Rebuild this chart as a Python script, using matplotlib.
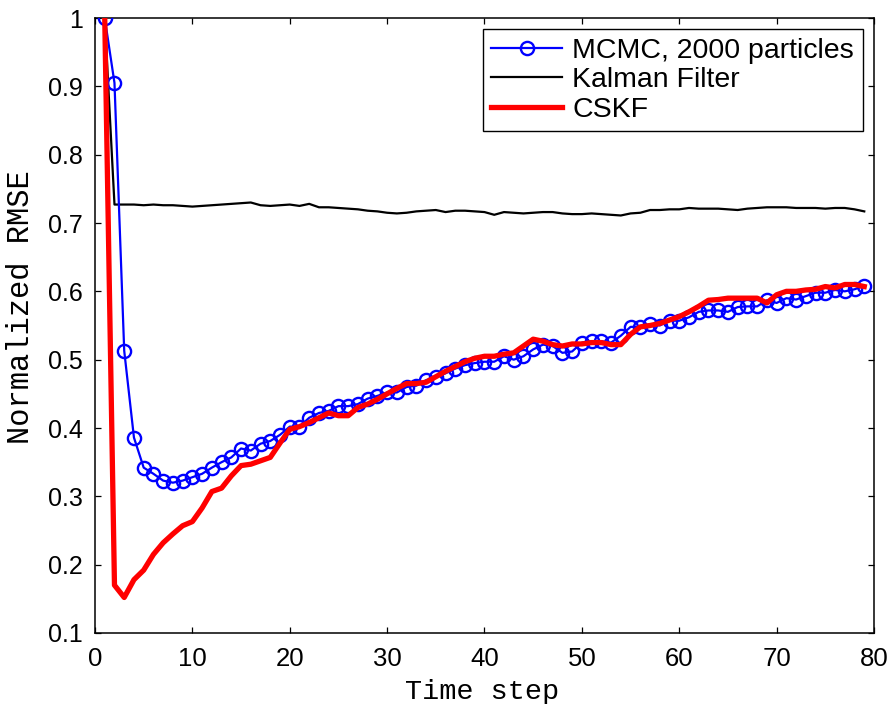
import matplotlib
matplotlib.use("Agg")
import matplotlib.pyplot as plt
import numpy as np

time_steps = list(range(1, 80))

mcmc = [1.0, 0.905, 0.513, 0.386, 0.342, 0.333, 0.323, 0.320, 0.323, 0.328,
        0.333, 0.342, 0.350, 0.357, 0.370, 0.367, 0.377, 0.381, 0.390, 0.402,
        0.402, 0.415, 0.422, 0.425, 0.432, 0.432, 0.435, 0.443, 0.447, 0.452,
        0.452, 0.460, 0.462, 0.470, 0.475, 0.480, 0.487, 0.492, 0.495, 0.497,
        0.497, 0.505, 0.500, 0.505, 0.515, 0.522, 0.520, 0.510, 0.512, 0.525,
        0.527, 0.527, 0.525, 0.535, 0.548, 0.548, 0.552, 0.550, 0.557, 0.557,
        0.562, 0.570, 0.572, 0.572, 0.570, 0.577, 0.578, 0.578, 0.587, 0.583,
        0.590, 0.588, 0.593, 0.598, 0.598, 0.602, 0.600, 0.603, 0.608]

kalman = [1.0, 0.727, 0.727, 0.727, 0.726, 0.727, 0.726, 0.726, 0.725, 0.724,
          0.725, 0.726, 0.727, 0.728, 0.729, 0.730, 0.726, 0.725, 0.726, 0.727,
          0.725, 0.728, 0.723, 0.723, 0.722, 0.721, 0.720, 0.718, 0.717, 0.715,
          0.714, 0.715, 0.717, 0.718, 0.719, 0.716, 0.718, 0.718, 0.717, 0.716,
          0.712, 0.716, 0.715, 0.714, 0.715, 0.716, 0.716, 0.714, 0.713, 0.713,
          0.714, 0.713, 0.712, 0.711, 0.714, 0.715, 0.719, 0.719, 0.720, 0.720,
          0.722, 0.721, 0.721, 0.721, 0.720, 0.719, 0.721, 0.722, 0.723, 0.723,
          0.723, 0.722, 0.722, 0.722, 0.721, 0.722, 0.722, 0.720, 0.717]

cskf = [1.0, 0.170, 0.152, 0.178, 0.192, 0.215, 0.232, 0.245, 0.257, 0.263,
        0.283, 0.307, 0.312, 0.330, 0.345, 0.347, 0.352, 0.357, 0.378, 0.398,
        0.402, 0.408, 0.415, 0.422, 0.418, 0.418, 0.430, 0.435, 0.442, 0.450,
        0.458, 0.465, 0.465, 0.467, 0.475, 0.483, 0.490, 0.497, 0.502, 0.505,
        0.505, 0.508, 0.510, 0.520, 0.530, 0.527, 0.522, 0.520, 0.523, 0.523,
        0.525, 0.525, 0.522, 0.522, 0.537, 0.548, 0.550, 0.553, 0.558, 0.563,
        0.570, 0.578, 0.587, 0.588, 0.590, 0.590, 0.590, 0.590, 0.583, 0.595,
        0.600, 0.600, 0.602, 0.603, 0.607, 0.605, 0.610, 0.610, 0.607]

x_ticks = [0, 10, 20, 30, 40, 50, 60, 70, 80]
y_ticks = [0.1, 0.2, 0.3, 0.4, 0.5, 0.6, 0.7, 0.8, 0.9, 1.0]
y_tick_labels = ["0.1", "0.2", "0.3", "0.4", "0.5", "0.6", "0.7", "0.8", "0.9", "1"]

fig = plt.figure(figsize=(8.95, 7.04), dpi=100)
ax = fig.add_axes([95 / 895, 1 - 633 / 704, 779 / 895, 615 / 704])

ax.plot(time_steps, mcmc, color="#0000ff", lw=1.6, marker="o", markersize=9.5,
        markerfacecolor="none", markeredgecolor="#0000ff", markeredgewidth=1.7,
        label="MCMC, 2000 particles", zorder=3)
ax.plot(time_steps, kalman, color="black", lw=1.6, label="Kalman Filter", zorder=2)
ax.plot(time_steps, cskf, color="#ff0000", lw=3.8, label="CSKF", zorder=4)

ax.set_xlim(0, 80)
ax.set_ylim(0.1, 1.0)
ax.set_xticks(x_ticks)
ax.set_yticks(y_ticks)
ax.set_yticklabels(y_tick_labels)
ax.tick_params(direction="in", top=True, right=True, length=4.5, width=0.9)
ax.tick_params(axis="x", pad=10)
ax.tick_params(axis="y", pad=8.5)
for lab in ax.get_xticklabels():
    lab.set_fontfamily(["Liberation Sans Narrow", "Liberation Sans", "DejaVu Sans"])
    lab.set_fontsize(18.5)
for lab in ax.get_yticklabels():
    lab.set_fontfamily(["Liberation Sans", "DejaVu Sans"])
    lab.set_fontsize(18)
for s in ax.spines.values():
    s.set_linewidth(1.1)

ax.set_xlabel("Time step", family=["Liberation Mono", "DejaVu Sans Mono"], fontsize=20.5)
ax.xaxis.set_label_coords((482 - 95) / 779, (633 - 679) / 615)
ax.set_ylabel("Normalized RMSE", family=["Liberation Mono", "DejaVu Sans Mono"], fontsize=22)
ax.yaxis.set_label_coords((36 - 95) / 779, (633 - 307) / 615)

leg = ax.legend(loc="upper right", prop={"family": ["Liberation Sans", "DejaVu Sans"], "size": 20.5},
                fancybox=False, edgecolor="black", framealpha=1, borderaxespad=0.4,
                handlelength=2.5, handletextpad=0.35, labelspacing=0.12, borderpad=0.3)
leg.get_frame().set_linewidth(1.0)

fig.savefig("out.png", dpi=100)
